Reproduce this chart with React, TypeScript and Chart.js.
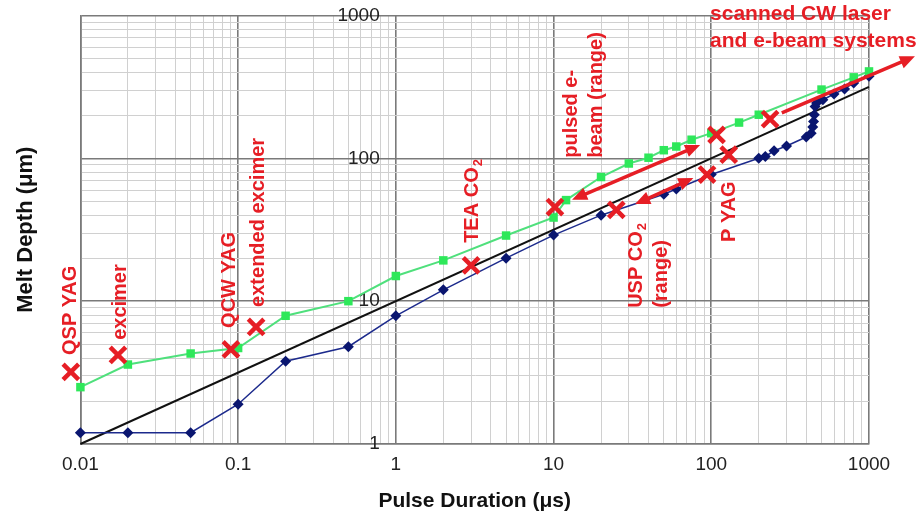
import React, { useEffect, useRef } from 'react';
import { Chart, registerables } from 'chart.js';

Chart.register(...registerables);

const FONT = '"Liberation Sans", Arial, Helvetica, sans-serif';
const RED = '#e61e25';

// Tick labels (decades)
const xMajor = [0.01, 0.1, 1, 10, 100, 1000];
const xTickLabels = ['0.01', '0.1', '1', '10', '100', '1000'];
const yMajor = [1, 10, 100, 1000];
const yTickLabels = ['1', '10', '100', '1000'];
const minorMultipliers = [1, 2, 3, 4, 5, 6, 7, 8, 9];
// x position (in µs) where the y tick labels end, just left of the 1 µs line
const yLabelAnchorX = 0.79;

// Green series (upper curve)
const greenX = [0.01, 0.02, 0.05, 0.1, 0.2, 0.5, 1, 2, 5, 10, 12, 20, 30, 40, 50, 60, 75, 100, 150, 200, 500, 800, 1000];
const greenY = [2.5, 3.6, 4.3, 4.7, 7.9, 10, 15, 19.3, 28.8, 38.5, 51, 74, 92, 101, 114, 121, 135, 150, 178, 202, 303, 369, 406];

// Blue series (lower curve)
const blueX = [0.01, 0.02, 0.05, 0.1, 0.2, 0.5, 1, 2, 5, 10, 20, 50, 60, 100, 200, 220, 250, 300, 400, 430, 440, 445, 450, 455, 465, 510, 600, 700, 800, 1000];
const blueY = [1.2, 1.2, 1.2, 1.9, 3.8, 4.8, 7.9, 12, 20, 29, 40, 56, 61, 77, 100, 103, 113, 122, 141, 150, 166, 181, 202, 231, 244, 257, 282, 306, 337, 375];

// Black reference line
const fitX = [0.01, 1000];
const fitY = [1, 316];

// Red X markers
const markerX = [0.0087, 0.0173, 0.09, 0.13, 3.0, 10.2, 108, 25, 94, 129, 236];
const markerY = [3.2, 4.2, 4.6, 6.6, 17.8, 45.6, 146, 43.6, 77, 106, 188];

// Red arrows (data coordinates)
const arrowFromX = [13.1, 32.9, 280];
const arrowFromY = [51.3, 47.8, 208];
const arrowToX = [85, 77, 1956];
const arrowToY = [124, 72.8, 518];
const arrowBothHeads = [true, true, false];

// Red annotation labels
const labelLines = [
  ['QSP YAG'],
  ['excimer'],
  ['QCW YAG'],
  ['extended excimer'],
  ['TEA CO_2'],
  ['pulsed e-', 'beam (range)'],
  ['USP CO_2', '(range)'],
  ['P YAG'],
  ['scanned CW laser', 'and e-beam systems'],
];
const labelAtX = [0.00864, 0.0179, 0.088, 0.134, 3.05, 12.9, 33.4, 129.7, 98.2];
const labelAtY = [4.2, 5.36, 6.5, 9.12, 25.6, 101, 8.98, 26, 1014];
const labelVertical = [true, true, true, true, true, true, true, true, false];

function isDecade(v: number) {
  const l = Math.log10(v);
  return Math.abs(l - Math.round(l)) < 1e-6;
}

function gridValues(majors: number[]) {
  const out: number[] = [];
  for (let i = 0; i < majors.length - 1; i++) {
    for (const m of minorMultipliers) out.push(+(majors[i] * m).toPrecision(6));
  }
  out.push(majors[majors.length - 1]);
  return out;
}

function labelFor(v: number, majors: number[], labels: string[]) {
  for (let i = 0; i < majors.length; i++) {
    if (Math.abs(Math.log10(v) - Math.log10(majors[i])) < 1e-6) return labels[i];
  }
  return '';
}

function drawRich(ctx: CanvasRenderingContext2D, text: string, x: number, y: number, size: number) {
  const parts = text.split('_');
  ctx.font = `bold ${size}px ${FONT}`;
  ctx.fillText(parts[0], x, y);
  if (parts.length > 1) {
    const w = ctx.measureText(parts[0]).width;
    ctx.font = `bold ${Math.round(size * 0.65)}px ${FONT}`;
    ctx.fillText(parts[1], x + w + 1, y + size * 0.3);
    ctx.font = `bold ${size}px ${FONT}`;
  }
}

function arrowHead(ctx: CanvasRenderingContext2D, x: number, y: number, a: number) {
  const hl = 15, hw = 6.5;
  const c = Math.cos(a), s = Math.sin(a);
  ctx.beginPath();
  ctx.moveTo(x, y);
  ctx.lineTo(x - hl * c + hw * s, y - hl * s - hw * c);
  ctx.lineTo(x - hl * c - hw * s, y - hl * s + hw * c);
  ctx.closePath();
  ctx.fill();
}

const annotationPlugin = {
  id: 'annotations',
  afterDatasetsDraw(chart: any) {
    const ctx: CanvasRenderingContext2D = chart.ctx;
    const xs = chart.scales.x;
    const ys = chart.scales.y;
    ctx.save();
    ctx.strokeStyle = RED;
    ctx.fillStyle = RED;
    ctx.lineWidth = 3.5;
    ctx.lineCap = 'butt';
    for (let i = 0; i < arrowFromX.length; i++) {
      const x1 = xs.getPixelForValue(arrowFromX[i]);
      const y1 = ys.getPixelForValue(arrowFromY[i]);
      const x2 = xs.getPixelForValue(arrowToX[i]);
      const y2 = ys.getPixelForValue(arrowToY[i]);
      const a = Math.atan2(y2 - y1, x2 - x1);
      const c = Math.cos(a), s = Math.sin(a);
      const inset = 10;
      ctx.beginPath();
      ctx.moveTo(arrowBothHeads[i] ? x1 + inset * c : x1, arrowBothHeads[i] ? y1 + inset * s : y1);
      ctx.lineTo(x2 - inset * c, y2 - inset * s);
      ctx.stroke();
      arrowHead(ctx, x2, y2, a);
      if (arrowBothHeads[i]) arrowHead(ctx, x1, y1, a + Math.PI);
    }
    ctx.textBaseline = 'middle';
    ctx.textAlign = 'left';
    for (let i = 0; i < labelLines.length; i++) {
      const px = xs.getPixelForValue(labelAtX[i]);
      const py = ys.getPixelForValue(labelAtY[i]);
      ctx.save();
      ctx.translate(px, py);
      if (labelVertical[i]) {
        ctx.rotate(-Math.PI / 2);
        labelLines[i].forEach((t, j) => drawRich(ctx, t, 0, j * 25, 20));
      } else {
        labelLines[i].forEach((t, j) => drawRich(ctx, t, 0, j * 27, 21));
      }
      ctx.restore();
    }
    ctx.restore();
  },
};

const toPoints = (xs: number[], ys: number[]) => xs.map((x, i) => ({ x, y: ys[i] }));

const majorColor = '#7a7a7a';
const minorColor = '#d0d0d0';

export default function App() {
  const ref = useRef<HTMLCanvasElement | null>(null);
  useEffect(() => {
    if (!ref.current) return;
    const xGrid = gridValues(xMajor);
    const yGrid = gridValues(yMajor);
    const gridColor = (c: any) => (c.tick && isDecade(c.tick.value) ? majorColor : minorColor);
    const gridWidth = (c: any) => (c.tick && isDecade(c.tick.value) ? 1.6 : 1);
    const chart = new Chart(ref.current, {
      type: 'scatter',
      data: {
        datasets: [
          {
            label: 'markers',
            data: toPoints(markerX, markerY),
            showLine: false,
            pointStyle: 'crossRot',
            pointRadius: 11,
            pointBorderWidth: 4.5,
            borderColor: RED,
            backgroundColor: RED,
            clip: false,
          },
          {
            label: 'green',
            data: toPoints(greenX, greenY),
            showLine: true,
            borderColor: '#4fe07c',
            borderWidth: 2,
            pointStyle: 'rect',
            pointRadius: 6,
            pointBackgroundColor: '#2ee85a',
            pointBorderColor: '#2ee85a',
            pointBorderWidth: 0,
            clip: false,
          },
          {
            label: 'blue',
            data: toPoints(blueX, blueY),
            showLine: true,
            borderColor: '#1c2a8c',
            borderWidth: 1.5,
            pointStyle: 'rectRot',
            pointRadius: 5.5,
            pointBackgroundColor: '#0a1670',
            pointBorderColor: '#0a1670',
            pointBorderWidth: 0,
            clip: false,
          },
          {
            label: 'fit',
            data: toPoints(fitX, fitY),
            showLine: true,
            borderColor: '#111111',
            borderWidth: 2,
            pointRadius: 0,
            clip: false,
          },
        ],
      },
      options: {
        animation: false,
        responsive: false,
        events: [],
        layout: { padding: { left: 10, right: 51, top: 7, bottom: 0 } },
        plugins: { legend: { display: false }, tooltip: { enabled: false } },
        scales: {
          x: {
            type: 'logarithmic',
            position: 'bottom',
            min: 0.01,
            max: 1000,
            afterBuildTicks: (s: any) => {
              s.ticks = xGrid.map((v) => ({ value: v, major: isDecade(v) }));
            },
            ticks: {
              autoSkip: false,
              maxRotation: 0,
              padding: 9,
              color: '#222',
              font: { family: FONT, size: 19 },
              callback: (v: any) => labelFor(Number(v), xMajor, xTickLabels),
            },
            grid: { drawTicks: false, color: gridColor, lineWidth: gridWidth },
            border: { color: majorColor, width: 1.6 },
            title: {
              display: true,
              text: 'Pulse Duration (μs)',
              color: '#111',
              font: { family: FONT, size: 21, weight: 'bold' },
              padding: { top: 4, bottom: 0 },
            },
          },
          y: {
            type: 'logarithmic',
            position: 'left',
            min: 1,
            max: 1000,
            afterBuildTicks: (s: any) => {
              s.ticks = yGrid.map((v) => ({ value: v, major: isDecade(v) }));
            },
            ticks: { display: false, autoSkip: false },
            grid: { drawTicks: false, color: gridColor, lineWidth: gridWidth },
            border: { color: majorColor, width: 1.6 },
            title: {
              display: true,
              text: 'Melt Depth (μm)',
              color: '#111',
              font: { family: FONT, size: 22, weight: 'bold' },
              padding: { top: 3, bottom: 41 },
            },
          },
          yLabels: {
            type: 'logarithmic',
            axis: 'y',
            position: { x: yLabelAnchorX },
            min: 1,
            max: 1000,
            afterBuildTicks: (s: any) => {
              s.ticks = yMajor.map((v) => ({ value: v, major: true }));
            },
            ticks: {
              autoSkip: false,
              padding: 0,
              color: '#222',
              font: { family: FONT, size: 19 },
              callback: (v: any) => labelFor(Number(v), yMajor, yTickLabels),
            },
            grid: { display: false, drawTicks: false },
            border: { display: false },
          },
        },
      } as any,
      plugins: [annotationPlugin],
    });
    return () => chart.destroy();
  }, []);
  return (
    <div style={{ position: 'absolute', left: 0, top: 0, width: 920, height: 514, background: '#fff' }}>
      <canvas ref={ref} width={920} height={514} style={{ display: 'block' }} />
    </div>
  );
}
